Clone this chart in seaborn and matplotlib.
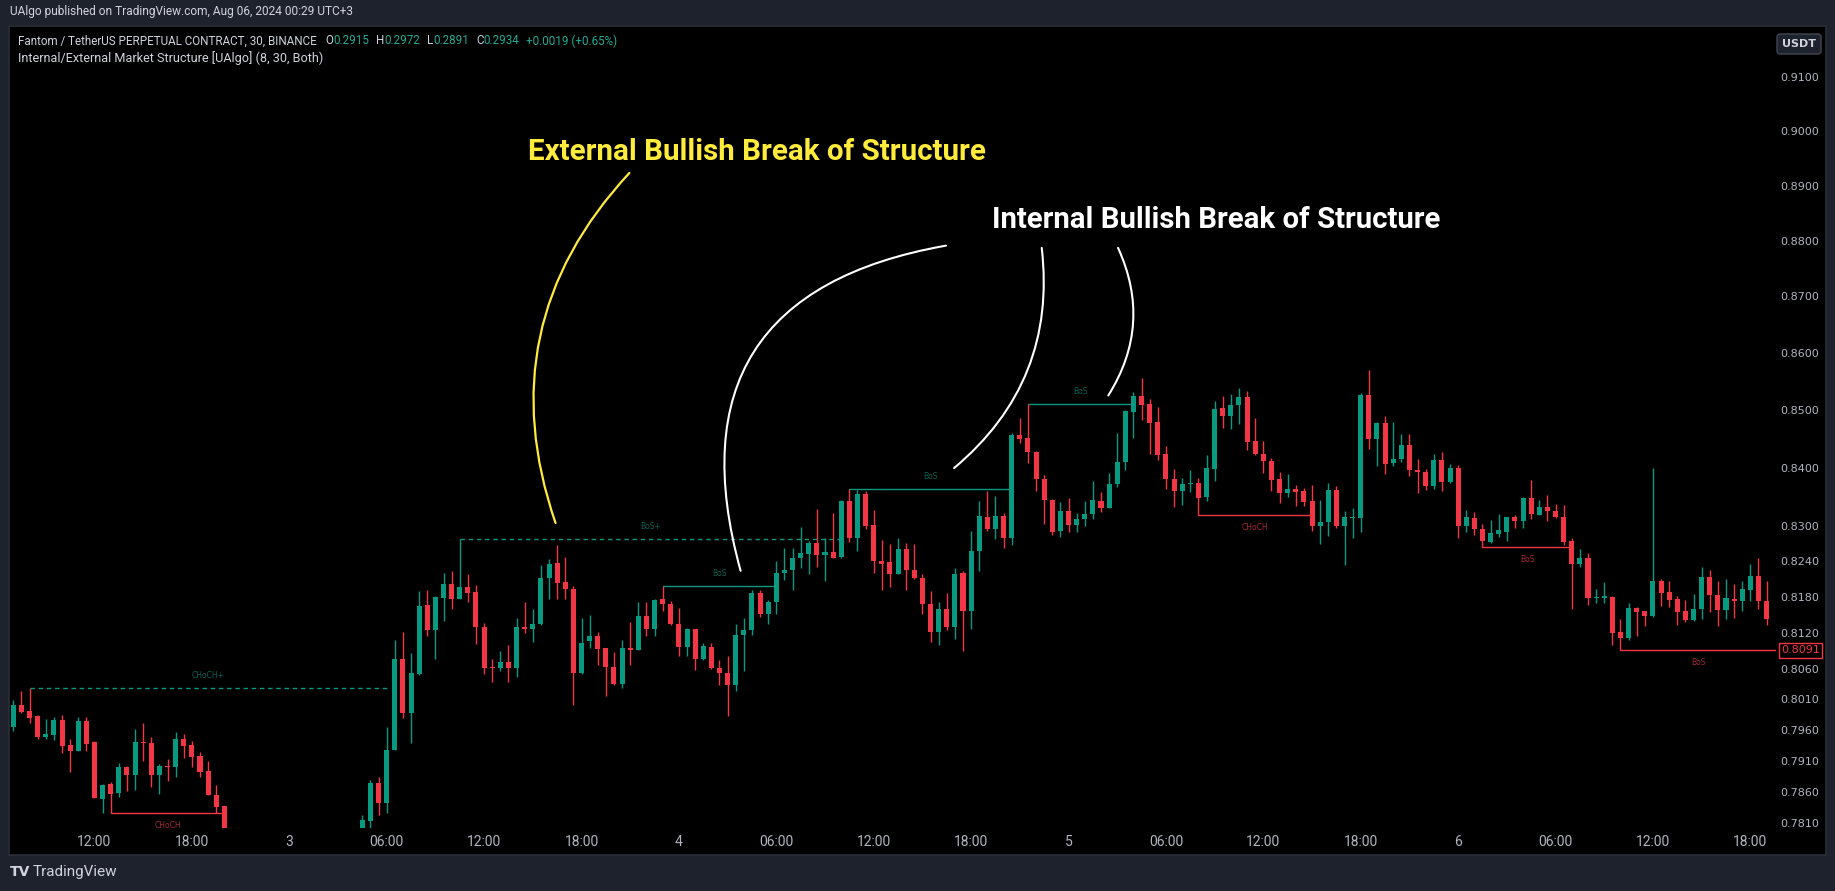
import matplotlib
matplotlib.use("Agg")
import matplotlib.pyplot as plt
import matplotlib.ticker as ticker
from matplotlib.patches import Rectangle, FancyArrowPatch
import numpy as np
import pandas as pd
import seaborn as sns

# ---------------- data (30 min bars, FTMUSDT.P) ----------------
start_time = "2024-08-02 07:00"

opens = [
    0.7965, 0.8001, 0.7991, 0.7982, 0.7948, 0.7952, 0.7976, 0.7936, 0.7926, 0.7974,
    0.7941, 0.7848, 0.7872, 0.7857, 0.7899, 0.7887, 0.7941, 0.7939, 0.7887, 0.7901,
    0.7900, 0.7945, 0.7936, 0.7918, 0.7893, 0.7855, 0.7836, 0.7760, 0.7742, 0.7725,
    0.7740, 0.7733, 0.7712, 0.7729, 0.7758, 0.7747, 0.7761, 0.7750, 0.7736, 0.7749,
    0.7764, 0.7756, 0.7768, 0.7783, 0.7813, 0.7874, 0.7841, 0.7928, 0.8077, 0.7987,
    0.8052, 0.8166, 0.8124, 0.8179, 0.8202, 0.8177, 0.8197, 0.8189, 0.8129, 0.8064,
    0.8062, 0.8072, 0.8061, 0.8130, 0.8127, 0.8134, 0.8212, 0.8237, 0.8205, 0.8194,
    0.8054, 0.8106, 0.8115, 0.8094, 0.8064, 0.8036, 0.8095, 0.8092, 0.8148, 0.8127,
    0.8176, 0.8169, 0.8135, 0.8096, 0.8126, 0.8076, 0.8097, 0.8061, 0.8054, 0.8033,
    0.8117, 0.8124, 0.8186, 0.8151, 0.8172, 0.8220, 0.8225, 0.8245, 0.8253, 0.8271,
    0.8251, 0.8256, 0.8247, 0.8343, 0.8280, 0.8354, 0.8301, 0.8241, 0.8238, 0.8219,
    0.8261, 0.8226, 0.8211, 0.8169, 0.8122, 0.8160, 0.8129, 0.8220, 0.8156, 0.8257,
    0.8316, 0.8295, 0.8317, 0.8279, 0.8456, 0.8451, 0.8427, 0.8381, 0.8345, 0.8291,
    0.8326, 0.8302, 0.8312, 0.8320, 0.8343, 0.8331, 0.8371, 0.8410, 0.8497, 0.8524,
    0.8510, 0.8478, 0.8423, 0.8381, 0.8360, 0.8371, 0.8374, 0.8349, 0.8398, 0.8503,
    0.8489, 0.8508, 0.8523, 0.8445, 0.8423, 0.8411, 0.8380, 0.8357, 0.8363, 0.8360,
    0.8343, 0.8300, 0.8306, 0.8361, 0.8300, 0.8314, 0.8314, 0.8525, 0.8450, 0.8477,
    0.8407, 0.8414, 0.8439, 0.8396, 0.8393, 0.8368, 0.8413, 0.8375, 0.8399, 0.8300,
    0.8314, 0.8295, 0.8273, 0.8286, 0.8290, 0.8315, 0.8309, 0.8348, 0.8319, 0.8332,
    0.8326, 0.8315, 0.8275, 0.8236, 0.8246, 0.8178, 0.8179, 0.8180, 0.8121, 0.8112,
    0.8162, 0.8156, 0.8148, 0.8207, 0.8188, 0.8176, 0.8156, 0.8142, 0.8159, 0.8214,
    0.8183, 0.8158, 0.8177, 0.8174, 0.8191, 0.8215, 0.8174,
]
highs = [
    0.8009, 0.8024, 0.8028, 0.7985, 0.7978, 0.7981, 0.7985, 0.7945, 0.7981, 0.7981,
    0.7942, 0.7872, 0.7876, 0.7906, 0.7901, 0.7962, 0.7972, 0.7948, 0.7905, 0.7913,
    0.7957, 0.7954, 0.7942, 0.7924, 0.7910, 0.7871, 0.7837, 0.7772, 0.7755, 0.7748,
    0.7761, 0.7744, 0.7738, 0.7766, 0.7779, 0.7768, 0.7775, 0.7763, 0.7757, 0.7771,
    0.7778, 0.7774, 0.7789, 0.7823, 0.7879, 0.7884, 0.7965, 0.8108, 0.8122, 0.8087,
    0.8190, 0.8192, 0.8182, 0.8220, 0.8224, 0.8278, 0.8219, 0.8200, 0.8137, 0.8077,
    0.8090, 0.8100, 0.8145, 0.8172, 0.8160, 0.8234, 0.8244, 0.8268, 0.8248, 0.8198,
    0.8145, 0.8150, 0.8122, 0.8095, 0.8088, 0.8108, 0.8138, 0.8172, 0.8172, 0.8177,
    0.8198, 0.8173, 0.8162, 0.8128, 0.8127, 0.8103, 0.8103, 0.8075, 0.8082, 0.8135,
    0.8145, 0.8192, 0.8192, 0.8175, 0.8241, 0.8263, 0.8263, 0.8298, 0.8275, 0.8329,
    0.8280, 0.8322, 0.8344, 0.8363, 0.8362, 0.8360, 0.8327, 0.8276, 0.8270, 0.8280,
    0.8271, 0.8270, 0.8219, 0.8190, 0.8172, 0.8187, 0.8229, 0.8224, 0.8292, 0.8343,
    0.8360, 0.8351, 0.8322, 0.8460, 0.8486, 0.8510, 0.8429, 0.8387, 0.8346, 0.8341,
    0.8348, 0.8322, 0.8343, 0.8377, 0.8358, 0.8391, 0.8460, 0.8500, 0.8531, 0.8556,
    0.8519, 0.8505, 0.8437, 0.8397, 0.8382, 0.8396, 0.8382, 0.8422, 0.8516, 0.8524,
    0.8528, 0.8538, 0.8533, 0.8486, 0.8446, 0.8416, 0.8392, 0.8389, 0.8370, 0.8365,
    0.8370, 0.8344, 0.8374, 0.8368, 0.8326, 0.8331, 0.8530, 0.8570, 0.8478, 0.8489,
    0.8479, 0.8458, 0.8458, 0.8415, 0.8397, 0.8423, 0.8427, 0.8406, 0.8404, 0.8327,
    0.8324, 0.8303, 0.8310, 0.8321, 0.8316, 0.8319, 0.8350, 0.8379, 0.8344, 0.8353,
    0.8338, 0.8336, 0.8280, 0.8261, 0.8254, 0.8193, 0.8205, 0.8182, 0.8143, 0.8170,
    0.8163, 0.8157, 0.8399, 0.8210, 0.8207, 0.8182, 0.8175, 0.8185, 0.8231, 0.8226,
    0.8207, 0.8210, 0.8202, 0.8207, 0.8236, 0.8246, 0.8207,
]
lows = [
    0.7959, 0.7988, 0.7972, 0.7945, 0.7945, 0.7944, 0.7923, 0.7891, 0.7926, 0.7925,
    0.7849, 0.7825, 0.7825, 0.7852, 0.7861, 0.7863, 0.7910, 0.7867, 0.7856, 0.7877,
    0.7884, 0.7915, 0.7899, 0.7884, 0.7854, 0.7826, 0.7745, 0.7731, 0.7718, 0.7712,
    0.7729, 0.7705, 0.7701, 0.7722, 0.7741, 0.7733, 0.7742, 0.7728, 0.7724, 0.7738,
    0.7749, 0.7744, 0.7759, 0.7775, 0.7798, 0.7823, 0.7825, 0.7927, 0.7980, 0.7938,
    0.8050, 0.8115, 0.8077, 0.8140, 0.8159, 0.8176, 0.8171, 0.8102, 0.8052, 0.8038,
    0.8056, 0.8038, 0.8046, 0.8120, 0.8105, 0.8133, 0.8177, 0.8177, 0.8177, 0.8001,
    0.8052, 0.8095, 0.8066, 0.8015, 0.8034, 0.8029, 0.8066, 0.8091, 0.8114, 0.8114,
    0.8157, 0.8133, 0.8082, 0.8081, 0.8059, 0.8075, 0.8060, 0.8034, 0.7983, 0.8024,
    0.8056, 0.8117, 0.8147, 0.8134, 0.8151, 0.8209, 0.8192, 0.8229, 0.8218, 0.8231,
    0.8206, 0.8245, 0.8245, 0.8272, 0.8258, 0.8294, 0.8221, 0.8192, 0.8196, 0.8218,
    0.8192, 0.8210, 0.8152, 0.8105, 0.8100, 0.8125, 0.8110, 0.8090, 0.8127, 0.8223,
    0.8292, 0.8277, 0.8263, 0.8268, 0.8443, 0.8407, 0.8360, 0.8304, 0.8285, 0.8282,
    0.8289, 0.8290, 0.8300, 0.8312, 0.8324, 0.8330, 0.8367, 0.8396, 0.8451, 0.8482,
    0.8423, 0.8413, 0.8363, 0.8332, 0.8336, 0.8358, 0.8319, 0.8343, 0.8377, 0.8469,
    0.8467, 0.8476, 0.8430, 0.8421, 0.8391, 0.8360, 0.8339, 0.8350, 0.8334, 0.8334,
    0.8292, 0.8270, 0.8283, 0.8297, 0.8234, 0.8280, 0.8290, 0.8432, 0.8403, 0.8389,
    0.8403, 0.8410, 0.8385, 0.8356, 0.8362, 0.8363, 0.8360, 0.8374, 0.8280, 0.8290,
    0.8285, 0.8264, 0.8271, 0.8281, 0.8275, 0.8297, 0.8297, 0.8312, 0.8318, 0.8309,
    0.8314, 0.8268, 0.8160, 0.8231, 0.8167, 0.8170, 0.8170, 0.8100, 0.8091, 0.8108,
    0.8115, 0.8132, 0.8146, 0.8165, 0.8163, 0.8133, 0.8138, 0.8140, 0.8143, 0.8155,
    0.8132, 0.8143, 0.8145, 0.8157, 0.8173, 0.8160, 0.8133,
]
closes = [
    0.8001, 0.7990, 0.7980, 0.7948, 0.7954, 0.7976, 0.7933, 0.7926, 0.7974, 0.7937,
    0.7850, 0.7871, 0.7856, 0.7900, 0.7887, 0.7941, 0.7939, 0.7887, 0.7901, 0.7899,
    0.7945, 0.7934, 0.7916, 0.7892, 0.7855, 0.7835, 0.7760, 0.7742, 0.7725, 0.7740,
    0.7733, 0.7712, 0.7729, 0.7758, 0.7747, 0.7761, 0.7750, 0.7736, 0.7749, 0.7764,
    0.7756, 0.7768, 0.7783, 0.7814, 0.7874, 0.7841, 0.7928, 0.8077, 0.7987, 0.8054,
    0.8165, 0.8124, 0.8180, 0.8202, 0.8177, 0.8197, 0.8187, 0.8129, 0.8062, 0.8062,
    0.8072, 0.8061, 0.8130, 0.8127, 0.8135, 0.8212, 0.8236, 0.8204, 0.8193, 0.8054,
    0.8103, 0.8115, 0.8093, 0.8064, 0.8036, 0.8095, 0.8092, 0.8148, 0.8127, 0.8175,
    0.8169, 0.8134, 0.8097, 0.8127, 0.8076, 0.8098, 0.8061, 0.8054, 0.8033, 0.8117,
    0.8125, 0.8187, 0.8151, 0.8172, 0.8220, 0.8226, 0.8246, 0.8254, 0.8271, 0.8251,
    0.8256, 0.8246, 0.8343, 0.8280, 0.8355, 0.8300, 0.8240, 0.8236, 0.8219, 0.8261,
    0.8226, 0.8211, 0.8169, 0.8122, 0.8160, 0.8129, 0.8219, 0.8156, 0.8258, 0.8317,
    0.8295, 0.8317, 0.8279, 0.8456, 0.8450, 0.8426, 0.8381, 0.8345, 0.8290, 0.8326,
    0.8302, 0.8312, 0.8321, 0.8344, 0.8331, 0.8372, 0.8410, 0.8498, 0.8524, 0.8509,
    0.8477, 0.8422, 0.8380, 0.8360, 0.8372, 0.8374, 0.8348, 0.8399, 0.8502, 0.8489,
    0.8509, 0.8523, 0.8444, 0.8423, 0.8411, 0.8379, 0.8356, 0.8363, 0.8358, 0.8341,
    0.8300, 0.8307, 0.8362, 0.8300, 0.8315, 0.8316, 0.8526, 0.8450, 0.8477, 0.8406,
    0.8415, 0.8439, 0.8396, 0.8393, 0.8368, 0.8413, 0.8375, 0.8399, 0.8300, 0.8315,
    0.8295, 0.8275, 0.8288, 0.8293, 0.8315, 0.8309, 0.8348, 0.8321, 0.8332, 0.8326,
    0.8315, 0.8273, 0.8236, 0.8246, 0.8178, 0.8180, 0.8180, 0.8120, 0.8112, 0.8162,
    0.8155, 0.8148, 0.8207, 0.8187, 0.8175, 0.8155, 0.8142, 0.8160, 0.8214, 0.8183,
    0.8158, 0.8178, 0.8174, 0.8193, 0.8215, 0.8173, 0.8143,
]

price_ticks = [0.9100, 0.9000, 0.8900, 0.8800, 0.8700, 0.8600, 0.8500, 0.8400, 0.8300,
               0.8240, 0.8180, 0.8120, 0.8060, 0.8010, 0.7960, 0.7910, 0.7860, 0.7810]

# market structure: level, first bar, last bar (None = runs to the edge)
struct_levels = [0.8028, 0.7825, 0.8278, 0.8198, 0.8363, 0.8510, 0.8319, 0.8264, 0.8091]
struct_from = [2, 12, 55, 80, 103, 125, 146, 181, 198]
struct_to = [46, 26, 102, 94, 123, 138, 160, 192, None]
struct_labels = ["CHoCH+", "CHoCH", "BoS+", "BoS", "BoS", "BoS", "CHoCH", "BoS", "BoS"]
struct_bull = [True, False, True, True, True, True, False, False, False]

title_text = "UAlgo published on TradingView.com, Aug 06, 2024 00:29 UTC+3"
symbol_text = "Fantom / TetherUS PERPETUAL CONTRACT, 30, BINANCE"
ohlc_names = ["O", "H", "L", "C"]
ohlc_values = ["0.2915", "0.2972", "0.2891", "0.2934"]
change_text = "+0.0019 (+0.65%)"
indicator_text = "Internal/External Market Structure [UAlgo] (8, 30, Both)"

ext_text = "External Bullish Break of Structure"
int_text = "Internal Bullish Break of Structure"
# callouts: (bar, price) of the text and of the arc ends
ext_text_pos = (91.6, 0.8962)
int_text_pos = (148.2, 0.8838)
ext_arcs = [((75.9, 0.8923), (66.8, 0.8305), 0.30)]
int_arcs = [((114.9, 0.8791), (89.6, 0.8224), 0.55),
            ((126.7, 0.8787), (115.9, 0.8399), -0.27),
            ((136.1, 0.8787), (134.9, 0.8525), -0.27)]

# ---------------- style ----------------
GREEN = "#089981"
RED = "#f23645"
TEAL_TXT = "#22ab94"
GRAY = "#b2b5be"
LIGHT = "#d1d4dc"
FRAME = "#1e222d"

sns.set_theme(style="dark", rc={"axes.facecolor": "black",
                                "figure.facecolor": FRAME,
                                "savefig.facecolor": FRAME})
NARROW = ["Liberation Sans Narrow", "Roboto", "DejaVu Sans"]
plt.rcParams["font.family"] = NARROW

W, H = 1835, 891


def fx(px):
    return px / W


def fy(py):
    return 1 - py / H


fig = plt.figure(figsize=(W / 100, H / 100), dpi=100)
renderer = fig.canvas.get_renderer()


def fit(t, width_px):
    w = t.get_window_extent(renderer).width
    t.set_fontsize(t.get_fontsize() * width_px / w)


# chart panel
fig.patches.append(Rectangle((fx(9), fy(855)), fx(1826) - fx(9), fy(26) - fy(855),
                             transform=fig.transFigure, facecolor="black",
                             edgecolor="#2a2e39", lw=1.2, zorder=-1))

ax = fig.add_axes([fx(9.5), fy(828.3), fx(1776) - fx(9.5), fy(26.5) - fy(828.3)])
ax.set_facecolor("black")

df = pd.DataFrame({"open": opens, "high": highs, "low": lows, "close": closes})
df["time"] = pd.date_range(start_time, periods=len(df), freq="30min")
df["bar"] = np.arange(len(df))

ax.set_yscale("log")
ax.set_ylim(0.7801, 0.9195)
xmax = 217.16
ax.set_xlim(-0.47, xmax)

up = df["close"] >= df["open"]
col = np.where(up, GREEN, RED)
ax.vlines(df["bar"], df["low"], df["high"], colors=col, lw=1.0, zorder=2)
lo = df[["open", "close"]].min(axis=1)
hi = df[["open", "close"]].max(axis=1)
ax.bar(df["bar"], np.maximum(hi - lo, lo * 0.00022), bottom=lo, width=0.62,
       color=col, linewidth=0, zorder=3)

# structure lines + labels
for lvl, a, b, lab, bull in zip(struct_levels, struct_from, struct_to,
                                struct_labels, struct_bull):
    b = xmax if b is None else b
    c = GREEN if bull else RED
    if lab.endswith("+"):
        ax.plot([a, b], [lvl, lvl], color=c, lw=1.0, linestyle="--",
                dashes=(3.2, 2.7), zorder=1)
    else:
        ax.plot([a, b], [lvl, lvl], color=c, lw=1.0, zorder=1)
    ax.annotate(lab, ((a + b) / 2, lvl), xytext=(0, 9 if bull else -9),
                textcoords="offset points", ha="center", va="center",
                fontsize=5.5, family="DejaVu Sans",
                color="#0b6153" if bull else "#a12a35")

# last level price tag
last = struct_levels[-1]
ax.annotate(f"{last:.4f}", (1.0, last), xycoords=("axes fraction", "data"),
            xytext=(5, 0), textcoords="offset pixels", ha="left", va="center",
            fontsize=8, family="DejaVu Sans", color=RED, annotation_clip=False,
            bbox=dict(boxstyle="square,pad=0.2", fc="black", ec=RED, lw=1))

# price axis
ax.yaxis.set_major_locator(ticker.FixedLocator(price_ticks))
ax.yaxis.set_minor_locator(ticker.NullLocator())
ax.yaxis.set_major_formatter(ticker.FuncFormatter(lambda v, p: f"{v:.4f}"))
ax.yaxis.set_minor_formatter(ticker.NullFormatter())
ax.yaxis.tick_right()
ax.tick_params(axis="y", length=0, pad=3, labelsize=8, labelcolor=GRAY,
               labelfontfamily="DejaVu Sans")

# time axis
mask = (df["time"].dt.minute == 0) & (df["time"].dt.hour % 6 == 0)
tick_bars = df.loc[mask, "bar"].tolist()
tick_labels = [str(t.day) if t.hour == 0 else t.strftime("%H:%M")
               for t in df.loc[mask, "time"]]
ax.set_xticks(tick_bars)
ax.set_xticklabels(tick_labels)
ax.tick_params(axis="x", length=0, pad=5, labelsize=10, labelcolor=GRAY)
ax.set_xlabel("")
ax.set_ylabel("")
ax.grid(False)
for s in ax.spines.values():
    s.set_visible(False)

# callouts
t1 = ax.text(*ext_text_pos, ext_text, color="#ffeb3b", fontsize=22,
             fontweight="bold", ha="center", va="center", zorder=6)
fit(t1, 456)
t2 = ax.text(*int_text_pos, int_text, color="white", fontsize=22,
             fontweight="bold", ha="center", va="center", zorder=6)
fit(t2, 447)
for a, b, rad in ext_arcs:
    ax.add_patch(FancyArrowPatch(a, b, connectionstyle=f"arc3,rad={rad}",
                                 arrowstyle="-", color="#ffeb3b", lw=1.6,
                                 shrinkA=0, shrinkB=0, zorder=5))
for a, b, rad in int_arcs:
    ax.add_patch(FancyArrowPatch(a, b, connectionstyle=f"arc3,rad={rad}",
                                 arrowstyle="-", color="white", lw=1.5,
                                 shrinkA=0, shrinkB=0, zorder=5))

# header / legend texts
th = fig.text(fx(10), fy(12), title_text, color=LIGHT, fontsize=10,
              ha="left", va="center")
fit(th, 345)
ti = fig.text(fx(18.5), fy(58.5), indicator_text, color=LIGHT, fontsize=10,
              ha="left", va="center")
fit(ti, 303)
fs = ti.get_fontsize()

parts = [(symbol_text, LIGHT, 8)]
for n, v in zip(ohlc_names, ohlc_values):
    parts.append((n, LIGHT, 0))
    parts.append((v, TEAL_TXT, 7))
parts.append((change_text, TEAL_TXT, 0))
segs = [(fig.text(0, fy(41), s, color=c, fontsize=fs, ha="left", va="center"), gap)
        for s, c, gap in parts]
gaps = sum(g for _, g in segs)
tw = sum(t.get_window_extent(renderer).width for t, _ in segs)
scale = (601 - gaps) / tw
x = 18.5
for t, gap in segs:
    t.set_fontsize(fs * scale)
    t.set_x(fx(x))
    x += t.get_window_extent(renderer).width + gap

fig.text(fx(1799), fy(44), "USDT", ha="center", va="center", fontsize=8,
         fontweight="bold", color=LIGHT, family="DejaVu Sans",
         bbox=dict(boxstyle="round,pad=0.45,rounding_size=0.3", fc=FRAME,
                   ec="#434651", lw=1))

fig.text(fx(10), fy(872), "TV", ha="left", va="center", fontsize=10,
         fontweight="bold", color=LIGHT, family="DejaVu Sans")
fig.text(fx(33), fy(872), "TradingView", ha="left", va="center", fontsize=11,
         color=LIGHT)

fig.savefig("out.png", dpi=100, facecolor=FRAME)
